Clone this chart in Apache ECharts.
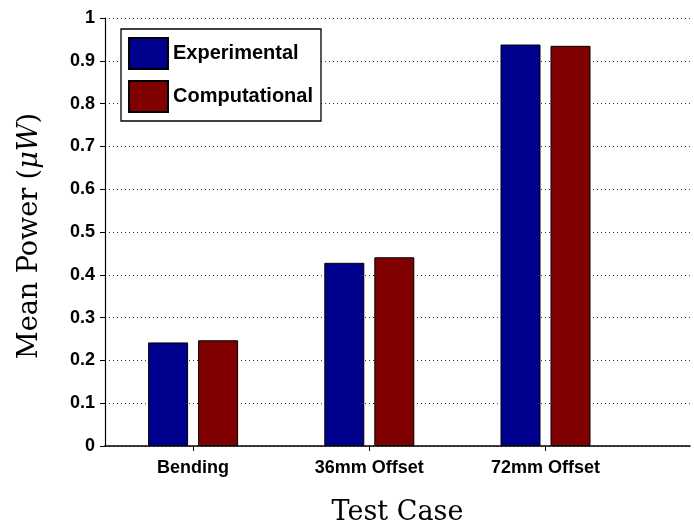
<!DOCTYPE html>
<html><head><meta charset="utf-8">
<script src="https://cdn.jsdelivr.net/npm/echarts@6/dist/echarts.min.js"></script>
<style>html,body{margin:0;padding:0;background:#fff}#c{width:694px;height:525px}</style>
</head><body><div id="c"></div>
<script>
const categories = ['Bending', '36mm Offset', '72mm Offset'];
const experimental = [0.242, 0.428, 0.938];
const computational = [0.247, 0.441, 0.935];
const yTicks = [0, 0.1, 0.2, 0.3, 0.4, 0.5, 0.6, 0.7, 0.8, 0.9, 1];
const catPos = categories.map((c, i) => i + 1);

const chart = echarts.init(document.getElementById('c'));
chart.setOption({
  animation: false,
  grid: { left: 105, right: 4, top: 18, bottom: 79, containLabel: false, outerBoundsMode: 'none' },
  legend: {
    left: 121, top: 29, orient: 'vertical', icon: 'rect',
    itemWidth: 39, itemHeight: 31, itemGap: 10,
    padding: [8, 8, 8, 7],
    borderColor: '#000', borderWidth: 1.3, backgroundColor: '#fff',
    textStyle: { fontFamily: 'Liberation Sans, Arial', fontWeight: 'bold', fontSize: 20, color: '#000' },
    data: ['Experimental', 'Computational']
  },
  xAxis: {
    type: 'value', min: 0.5, max: 3.82,
    name: 'Test Case', nameLocation: 'middle', nameGap: 53,
    nameTextStyle: { fontFamily: 'DejaVu Serif, serif', fontSize: 27, color: '#000' },
    axisLine: { show: true, lineStyle: { color: '#000', width: 1.5 } },
    axisTick: { show: true, length: 5, customValues: catPos, lineStyle: { color: '#000' } },
    axisLabel: {
      customValues: catPos, margin: 13,
      formatter: v => categories[Math.round(v) - 1] || '',
      fontFamily: 'Liberation Sans, Arial', fontWeight: 'bold', fontSize: 18, color: '#000'
    },
    splitLine: { show: false }
  },
  yAxis: {
    type: 'value', min: 0, max: 1, interval: 0.1,
    name: 'Mean Power ({i|μ}{i|W})', nameLocation: 'middle', nameGap: 62,
    nameTextStyle: {
      fontFamily: 'DejaVu Serif, serif', fontSize: 27, color: '#000', padding: [0, 8, 0, 0],
      rich: { i: { fontFamily: 'DejaVu Serif, serif', fontStyle: 'italic', fontSize: 27, color: '#000' } }
    },
    axisLine: { show: true, lineStyle: { color: '#000', width: 1.2 } },
    axisTick: { show: true, length: 5, lineStyle: { color: '#000' } },
    axisLabel: {
      margin: 10,
      formatter: v => { const t = yTicks.find(x => Math.abs(x - v) < 1e-9); return t === undefined ? '' : String(t); },
      fontFamily: 'Liberation Sans, Arial', fontWeight: 'bold', fontSize: 18, color: '#000'
    },
    splitLine: { show: true, lineStyle: { color: '#333', type: [1, 3], width: 1 } }
  },
  series: [
    {
      name: 'Experimental', type: 'bar', barWidth: 40, barGap: '25%',
      itemStyle: { color: '#00008F', borderColor: '#000', borderWidth: 1 },
      data: catPos.map((p, i) => [p, experimental[i]])
    },
    {
      name: 'Computational', type: 'bar', barWidth: 40, barGap: '25%',
      itemStyle: { color: '#800000', borderColor: '#000', borderWidth: 1 },
      data: catPos.map((p, i) => [p, computational[i]])
    }
  ]
});
</script></body></html>
